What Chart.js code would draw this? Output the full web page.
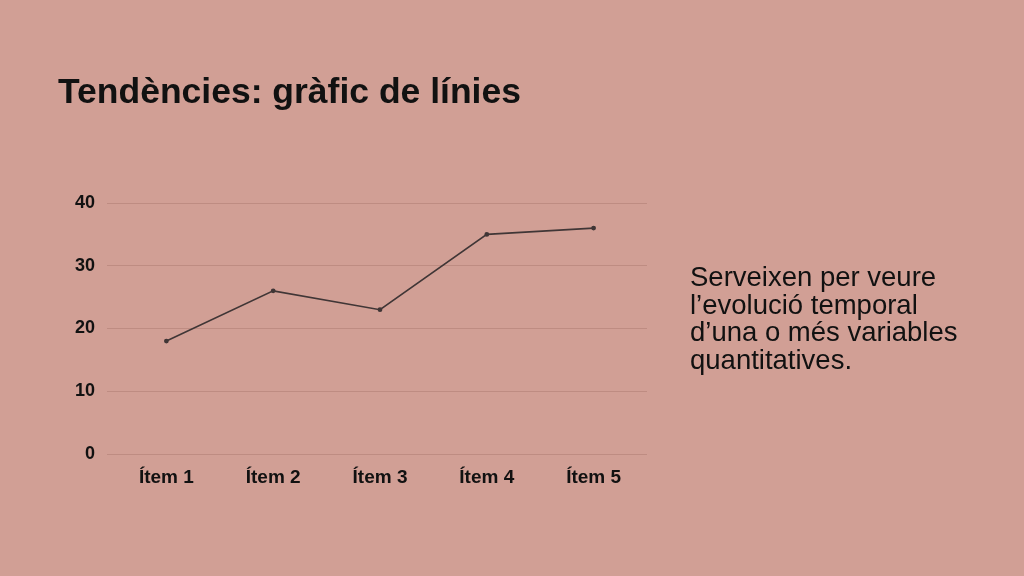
<!DOCTYPE html>
<html><head><meta charset="utf-8">
<script src="https://cdn.jsdelivr.net/npm/chart.js@4"></script>
<style>
html,body{margin:0;padding:0;width:1024px;height:576px;overflow:hidden;background:#D19F95;font-family:"Liberation Sans",Arial,sans-serif;}
#wrap{position:absolute;left:0;top:0;width:1024px;height:576px;}
#title{position:absolute;left:58px;top:71px;font-size:35.5px;font-weight:bold;color:#111;white-space:nowrap;}
#desc{position:absolute;left:690px;top:263px;font-size:27.5px;line-height:27.5px;color:#111;white-space:nowrap;}
</style></head><body>
<div id="wrap"><canvas id="c" width="1024" height="576"></canvas></div>
<div id="title">Tendències: gràfic de línies</div>
<div id="desc">Serveixen per veure<br>l’evolució temporal<br>d’una o més variables<br>quantitatives.</div>
<script>
const categories = ["Ítem 1","Ítem 2","Ítem 3","Ítem 4","Ítem 5"];
const seriesValues = [18,26,23,35,36];
const yTicks = [0,10,20,30,40];

new Chart(document.getElementById('c'), {
  type:'line',
  data:{labels:categories, datasets:[{data:seriesValues,borderColor:'#403636',backgroundColor:'#403636',borderWidth:1.6,pointRadius:1.6,pointHoverRadius:1.6,tension:0}]},
  options:{
    responsive:false, animation:false,
    plugins:{legend:{display:false},tooltip:{enabled:false}},
    layout:{padding:{left:60,top:203,right:377,bottom:82}},
    scales:{
      x:{offset:true,grid:{display:false},border:{display:false},
         ticks:{color:'#111',font:{family:'"Liberation Sans", Arial, sans-serif',size:19,weight:'bold'},padding:4},
         afterFit:s=>{s.height=40;}},
      y:{min:0,max:40,afterBuildTicks:s=>{s.ticks=yTicks.map(v=>({value:v}));},
         grid:{color:'#BE8C82',lineWidth:1,drawTicks:true,tickLength:6},border:{display:false},
         ticks:{color:'#111',font:{family:'"Liberation Sans", Arial, sans-serif',size:18,weight:'bold'},padding:12},
         afterFit:s=>{s.width=53;}}
    }
  }
});
</script>
</body></html>
